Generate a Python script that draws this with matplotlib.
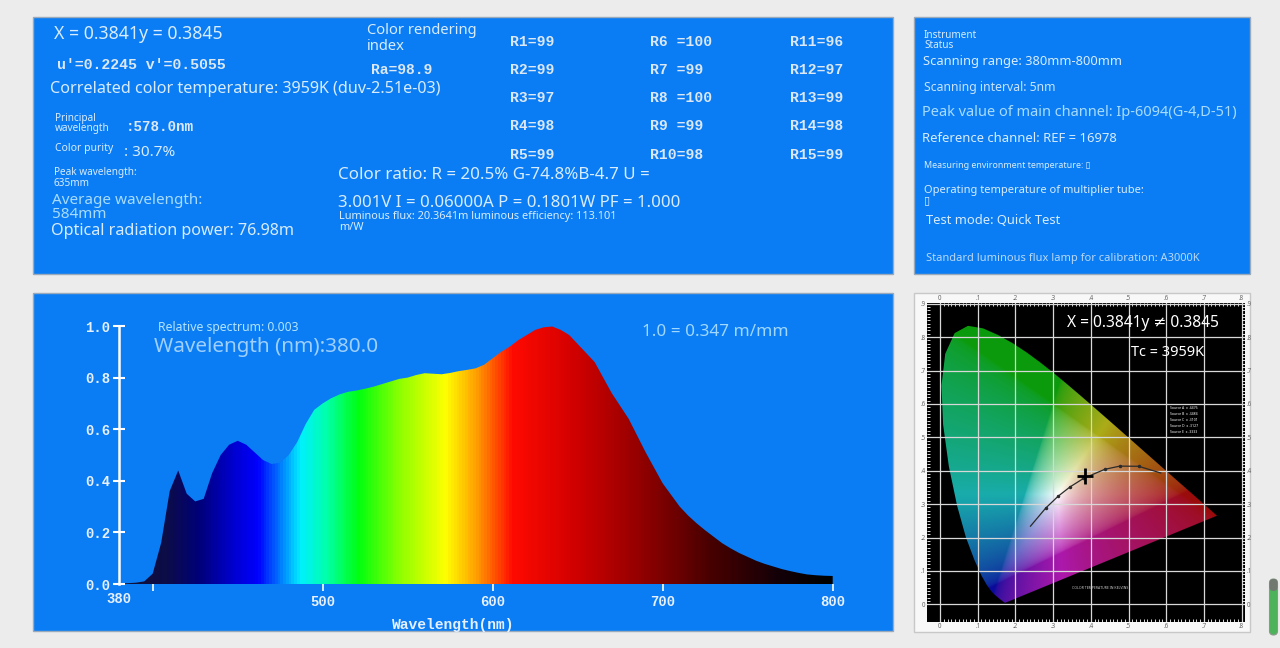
import numpy as np
import matplotlib
matplotlib.use('Agg')
import matplotlib.pyplot as plt
from matplotlib.colors import LinearSegmentedColormap
from matplotlib.patches import Rectangle, Polygon, FancyBboxPatch

plt.rcParams['font.family'] = ['Noto Sans', 'DejaVu Sans']

# ---- relative spectrum (5 nm steps) ----
wavelength = [380, 385, 390, 395, 400, 405, 410, 415, 420, 425,
              430, 435, 440, 445, 450, 455, 460, 465, 470, 475,
              480, 485, 490, 495, 500, 505, 510, 515, 520, 525,
              530, 535, 540, 545, 550, 555, 560, 565, 570, 575,
              580, 585, 590, 595, 600, 605, 610, 615, 620, 625,
              630, 635, 640, 645, 650, 655, 660, 665, 670, 675,
              680, 685, 690, 695, 700, 705, 710, 715, 720, 725,
              730, 735, 740, 745, 750, 755, 760, 765, 770, 775,
              780, 785, 790, 795, 800]
relative = [0.003, 0.003, 0.005, 0.010, 0.040, 0.160, 0.360, 0.440, 0.350, 0.320,
            0.330, 0.430, 0.500, 0.540, 0.555, 0.540, 0.510, 0.480, 0.465, 0.470,
            0.500, 0.550, 0.620, 0.675, 0.700, 0.720, 0.735, 0.745, 0.750, 0.757,
            0.765, 0.775, 0.785, 0.795, 0.800, 0.810, 0.817, 0.815, 0.813, 0.818,
            0.825, 0.830, 0.836, 0.850, 0.875, 0.900, 0.920, 0.945, 0.965, 0.985,
            0.995, 0.998, 0.985, 0.965, 0.930, 0.895, 0.860, 0.800, 0.740, 0.690,
            0.640, 0.575, 0.510, 0.450, 0.390, 0.345, 0.300, 0.265, 0.235, 0.208,
            0.183, 0.158, 0.138, 0.120, 0.105, 0.090, 0.078, 0.068, 0.058, 0.050,
            0.043, 0.037, 0.034, 0.032, 0.031]

spec_stops = [380, 405, 425, 445, 460, 472, 485, 500, 520, 545, 572, 590, 612, 650, 690, 730, 770, 800]
spec_colors = ['#121238', '#0c0c48', '#00007a', '#0000d0', '#0000ff', '#0070ff', '#00f0ff',
               '#00ffb0', '#00ff10', '#90ff00', '#ffff00', '#ffa000', '#ff0a00', '#d00000',
               '#900000', '#480000', '#140008', '#000000']

y_ticks = [0.0, 0.2, 0.4, 0.6, 0.8, 1.0]
y_tick_labels = ['0.0', '0.2', '0.4', '0.6', '0.8', '1.0']
x_ticks = [400, 500, 600, 700, 800]
x_tick_labels = ['', '500', '600', '700', '800']

# ---- CIE 1931 spectral locus ----
locus_x = [0.1741, 0.1733, 0.1726, 0.1714, 0.1689, 0.1644, 0.1566, 0.1440, 0.1355, 0.1241,
           0.1096, 0.0913, 0.0687, 0.0454, 0.0235, 0.0082, 0.0039, 0.0139, 0.0389, 0.0743,
           0.1142, 0.1547, 0.1929, 0.2296, 0.2658, 0.3016, 0.3373, 0.3731, 0.4087, 0.4441,
           0.4788, 0.5125, 0.5448, 0.5752, 0.6029, 0.6270, 0.6658, 0.6915, 0.7079, 0.7190,
           0.7300, 0.7347]
locus_y = [0.0050, 0.0048, 0.0048, 0.0051, 0.0069, 0.0109, 0.0177, 0.0297, 0.0399, 0.0578,
           0.0868, 0.1327, 0.2007, 0.2950, 0.4127, 0.5384, 0.6548, 0.7502, 0.8120, 0.8338,
           0.8262, 0.8059, 0.7816, 0.7543, 0.7243, 0.6923, 0.6589, 0.6245, 0.5896, 0.5547,
           0.5202, 0.4866, 0.4544, 0.4242, 0.3965, 0.3725, 0.3340, 0.3083, 0.2920, 0.2809,
           0.2700, 0.2653]
planck_x = [0.240, 0.2807, 0.3135, 0.3451, 0.3805, 0.4369, 0.4770, 0.5267, 0.5857]
planck_y = [0.234, 0.2884, 0.3237, 0.3516, 0.3768, 0.4041, 0.4137, 0.4133, 0.3931]
point_x, point_y = 0.3841, 0.3845
cie_ticks_x = [0, 0.1, 0.2, 0.3, 0.4, 0.5, 0.6, 0.7, 0.8]
cie_labels_x = ['0', '.1', '.2', '.3', '.4', '.5', '.6', '.7', '.8']
cie_ticks_y = [0, 0.1, 0.2, 0.3, 0.4, 0.5, 0.6, 0.7, 0.8, 0.9]
cie_labels_y = ['0', '.1', '.2', '.3', '.4', '.5', '.6', '.7', '.8', '.9']

PANEL = '#0a7cf4'
TXT = '#d8ecff'
CYAN = '#a8dcff'
MONO = 'Liberation Mono'

fig = plt.figure(figsize=(12.8, 6.48), dpi=100)
fig.patch.set_facecolor('#ececec')
bg = fig.add_axes([0, 0, 1, 1])
bg.set_xlim(0, 1280)
bg.set_ylim(648, 0)
bg.axis('off')

# panels
for x0, y0, x1, y1 in [(33, 17, 893, 274), (914, 17, 1250, 274), (33, 293, 893, 631)]:
    bg.add_patch(Rectangle((x0, y0), x1 - x0, y1 - y0, facecolor=PANEL, edgecolor='#9aaabb', lw=1))
bg.add_patch(Rectangle((914, 293), 336, 339, facecolor='#f8f8f8', edgecolor='#c8c8c8', lw=1))

# scroll bar
bg.add_patch(FancyBboxPatch((1269.5, 579), 8, 56, boxstyle='round,pad=0,rounding_size=4',
                            facecolor='#4db35a', edgecolor='#8a9a8a', lw=0.8))
bg.add_patch(FancyBboxPatch((1269.5, 579), 8, 12, boxstyle='round,pad=0,rounding_size=4',
                            facecolor='#707870', edgecolor='none'))


def t(x, y, s, size, color=TXT, **kw):
    bg.text(x, y, s, fontsize=size, color=color, ha='left', va='center', **kw)


def m(x, y, s, size=10, color='#dce8f6'):
    bg.text(x, y, s, fontsize=size, color=color, ha='left', va='center',
            family=MONO, weight='bold')


# top-left panel
t(54, 34, 'X = 0.3841y = 0.3845', 12.7)
m(57, 65, "u'=0.2245 v'=0.5055", 10.7)
t(50, 89, 'Correlated color temperature: 3959K (duv-2.51e-03)', 11.6)
t(55, 119, 'Principal', 7.2)
t(55, 129, 'wavelength', 7.2)
m(126, 127, ':578.0nm', 10.3)
t(55, 148, 'Color purity', 7.5)
t(124, 153, ': 30.7%', 11)
t(54, 173, 'Peak wavelength:', 7.2)
t(54, 183, '635mm', 7.2)
t(52, 201, 'Average wavelength:', 11, CYAN)
t(52, 214, '584mm', 11, CYAN)
t(51, 231, 'Optical radiation power: 76.98m', 11.6)
t(367, 31, 'Color rendering', 10.6)
t(367, 46, 'index', 10.6)
m(371, 70, 'Ra=98.9', 10.5)
t(338, 175, 'Color ratio: R = 20.5% G-74.8%B-4.7 U =', 12.2)
t(338, 203, '3.001V I = 0.06000A P = 0.1801W PF = 1.000', 12.1)
t(339, 217, 'Luminous flux: 20.3641m luminous efficiency: 113.101', 7.9)
t(339, 227, 'm/W', 7.9)

r_cols = [
    ['R1=99', 'R2=99', 'R3=97', 'R4=98', 'R5=99'],
    ['R6 =100', 'R7 =99', 'R8 =100', 'R9 =99', 'R10=98'],
    ['R11=96', 'R12=97', 'R13=99', 'R14=98', 'R15=99'],
]
r_rows_y = [42, 70, 98, 126, 155]
for cx, col in zip([510, 650, 790], r_cols):
    for ry, s in zip(r_rows_y, col):
        m(cx, ry, s, 10.6)

# top-right panel
t(924, 35, 'Instrument', 7.2)
t(924, 45, 'Status', 7.2)
t(923, 61, 'Scanning range: 380mm-800mm', 9.3)
t(924, 88, 'Scanning interval: 5nm', 8.8, '#c8e4ff')
t(922, 113, 'Peak value of main channel: Ip-6094(G-4,D-51)', 10.5, CYAN)
t(922, 138, 'Reference channel: REF = 16978', 9.4)
t(924, 166, 'Measuring environment temperature: \u25af', 6.4)
t(924, 191, 'Operating temperature of multiplier tube:', 8)
t(924, 201, '\u25af', 8)
t(926, 220, 'Test mode: Quick Test', 9.3)
t(926, 258, 'Standard luminous flux lamp for calibration: A3000K', 8, '#b8d8f8')

# ---- spectrum axes ----
L, R_, B, T_ = 118.7, 832.7, 584, 326
ax = fig.add_axes([L / 1280, 1 - B / 648, (R_ - L) / 1280, (B - T_) / 648])
ax.set_facecolor('none')
ax.set_xlim(380, 800)
ax.set_ylim(0, 1)

cmap = LinearSegmentedColormap.from_list(
    'spec', [((s - 380) / 420, c) for s, c in zip(spec_stops, spec_colors)])
grad = np.array([wavelength], dtype=float)
im = ax.imshow(grad, extent=[380, 800, 0, 1], aspect='auto', cmap=cmap,
               vmin=380, vmax=800, interpolation='bilinear', origin='lower')
verts = [(wavelength[0], 0)] + list(zip(wavelength, relative)) + [(wavelength[-1], 0)]
shape = Polygon(verts, closed=True, facecolor='none', edgecolor='none')
ax.add_patch(shape)
im.set_clip_path(shape)

for sp in ['top', 'right', 'bottom']:
    ax.spines[sp].set_visible(False)
ax.spines['left'].set_color('white')
ax.spines['left'].set_linewidth(1.8)
ax.set_yticks(y_ticks)
ax.set_yticklabels(y_tick_labels)
ax.set_xticks(x_ticks)
ax.set_xticklabels(x_tick_labels)
ax.tick_params(axis='y', direction='inout', length=8, width=1.5, color='white', pad=2,
               labelcolor='#e6f0ff', labelsize=10)
ax.tick_params(axis='x', direction='out', length=5, width=1.2, color='white', pad=3,
               labelcolor='#e6f0ff', labelsize=10)
for lab in ax.get_xticklabels() + ax.get_yticklabels():
    lab.set_family(MONO)
    lab.set_weight('bold')
ax.text(380, -0.03, '380', transform=ax.transData, ha='center', va='top', fontsize=10,
        color='#e6f0ff', family=MONO, weight='bold')

t(158, 328, 'Relative spectrum: 0.003', 8.8, '#b4e4ff')
t(154, 347, 'Wavelength (nm):380.0', 14.9, '#9fd0ff')
t(642, 332, '1.0 = 0.347 m/mm', 12.3, '#a0d8ff')
bg.text(453, 625, 'Wavelength(nm)', fontsize=10.5, color='#e6f0ff', ha='center', va='center',
        family=MONO, weight='bold')

# ---- CIE chromaticity diagram ----
cx0, cx1, cy0, cy1 = 927, 1245, 303, 622
cax = fig.add_axes([cx0 / 1280, 1 - cy1 / 648, (cx1 - cx0) / 1280, (cy1 - cy0) / 648])
xmin, xmax = (cx0 - 940) / 377, (cx1 - 940) / 377
ymin, ymax = (604.3 - cy1) / 334, (604.3 - cy0) / 334
cax.set_xlim(xmin, xmax)
cax.set_ylim(ymin, ymax)
cax.set_facecolor('black')

gx, gy = np.meshgrid(np.linspace(xmin, xmax, 360), np.linspace(ymin, ymax, 360))
yy = np.maximum(gy, 1e-3)
X = gx / yy
Z = (1 - gx - gy) / yy
Mx = np.array([[3.2406, -1.5372, -0.4986], [-0.9689, 1.8758, 0.0415], [0.0557, -0.2040, 1.0570]])
rgb = np.stack([Mx[i, 0] * X + Mx[i, 1] + Mx[i, 2] * Z for i in range(3)], axis=-1)
rgb = np.clip(rgb, 0, None)
rgb = rgb / np.maximum(rgb.max(axis=-1, keepdims=True), 1e-6)
rgb = rgb ** (1 / 2.2)
lum = rgb.mean(axis=-1, keepdims=True)
rgb = 0.8 * rgb + 0.2 * lum
rgb = rgb * (0.68 + 0.32 * rgb.min(axis=-1, keepdims=True))
cim = cax.imshow(rgb, extent=[xmin, xmax, ymin, ymax], origin='lower', aspect='auto',
                 interpolation='bilinear', zorder=1)
horse = Polygon(list(zip(locus_x, locus_y)), closed=True, facecolor='none', edgecolor='none')
cax.add_patch(horse)
cim.set_clip_path(horse)

cax.set_xticks(cie_ticks_x)
cax.set_xticklabels(cie_labels_x)
cax.set_yticks(cie_ticks_y)
cax.set_yticklabels(cie_labels_y)
cax.set_xticks(np.arange(0, 0.81, 0.01), minor=True)
cax.set_yticks(np.arange(0, 0.91, 0.01), minor=True)
cax.grid(True, color='#d8d8d8', lw=0.9, zorder=2)
cax.set_axisbelow(False)
cax.tick_params(which='both', direction='in', color='white', top=True, right=True,
                labeltop=True, labelright=True, labelsize=4.5, labelcolor='#666666', pad=1)
cax.tick_params(which='major', length=0)
cax.tick_params(which='minor', length=2.5, width=0.6)
for sp in cax.spines.values():
    sp.set_visible(False)

cax.plot(planck_x, planck_y, color='#2a2a2a', lw=0.9, zorder=3)
cax.plot(planck_x[1:-1], planck_y[1:-1], 'o', color='#2a2a2a', ms=1.5, zorder=3)
cax.plot([point_x], [point_y], marker='+', color='black', ms=11, mew=2, zorder=4)
cax.text(0.337, 0.842, 'X = 0.3841y \u2260 0.3845', fontsize=11.2, color='white',
         ha='left', va='center', zorder=5)
cax.text(0.507, 0.755, 'Tc = 3959K', fontsize=10.5, color='white', ha='left', va='center', zorder=5)
for i, s in enumerate(['Source A  x .4476', 'Source B  x .3484', 'Source C  x .3101',
                       'Source D  x .3127', 'Source E  x .3333']):
    cax.text(0.61, 0.585 - i * 0.018, s, fontsize=2.5, color='white', zorder=5)
cax.text(0.35, 0.045, 'COLOR TEMPERATURE IN KELVINS', fontsize=2.5, color='#cccccc', zorder=5)

fig.savefig('out.png', dpi=100, facecolor=fig.get_facecolor())
